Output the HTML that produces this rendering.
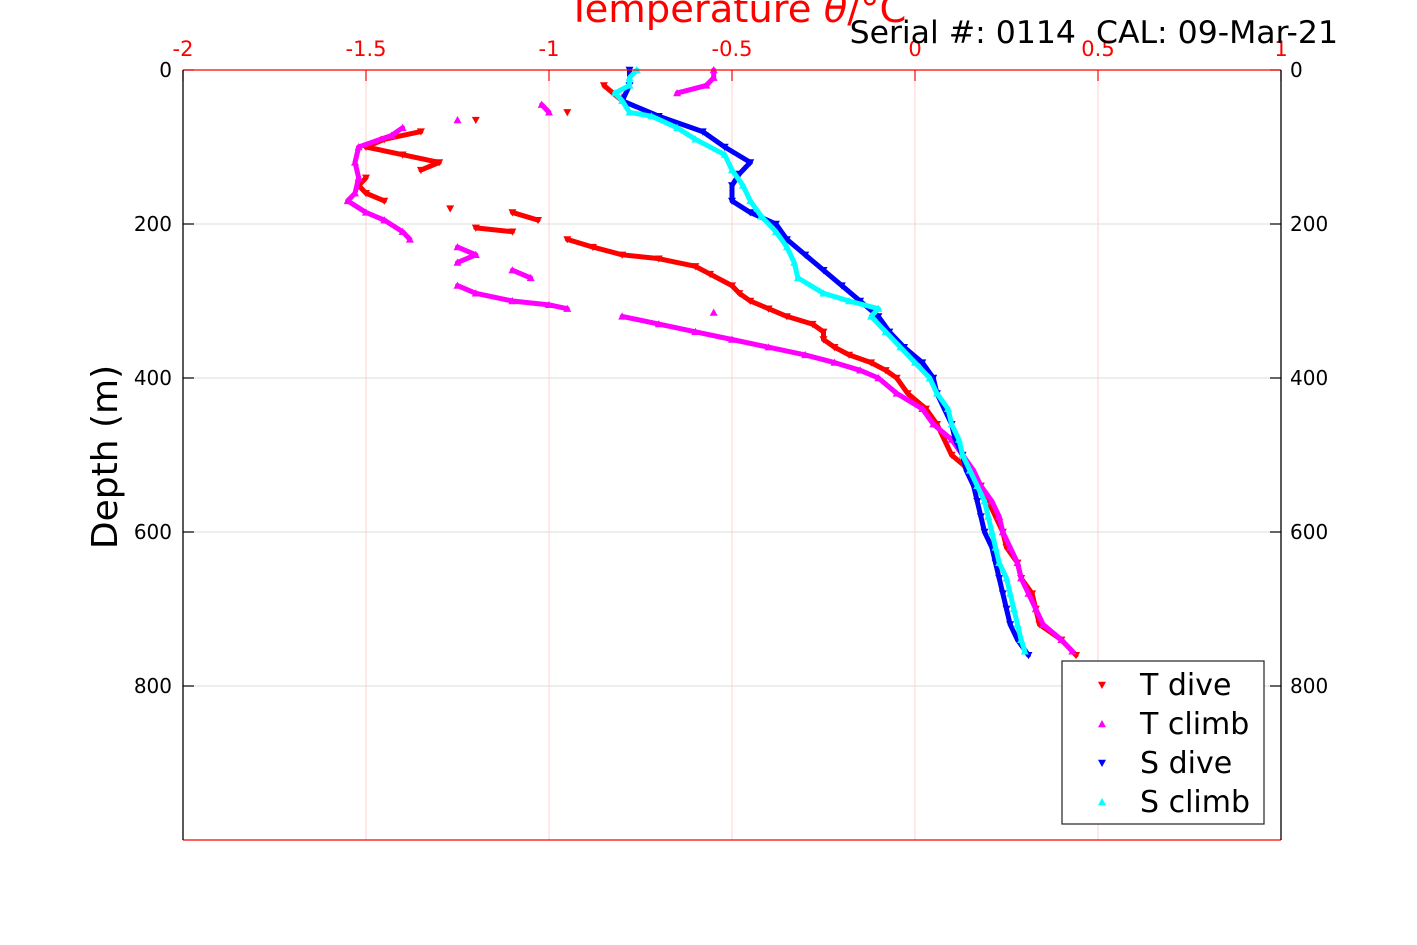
<!DOCTYPE html>
<html><head><meta charset="utf-8"><style>
body{margin:0;background:#fff;width:1417px;height:945px;overflow:hidden}
svg{display:block;font-family:"DejaVu Sans","Liberation Sans",sans-serif}
</style></head><body>
<svg id="chart" width="1417" height="945">
<g id="grid"></g>
<g id="series"></g>
<g id="axes"></g>
<text x="737" y="22" text-anchor="middle" font-size="38.5" fill="#f00">Temperature <tspan font-style="italic">θ</tspan>/°C</text>
<text x="1338" y="43" text-anchor="end" font-size="31.5" fill="#000" style="white-space:pre">Serial #: 0114  CAL: 09-Mar-21</text>
<text transform="translate(117,457) rotate(-90)" text-anchor="middle" font-size="36" fill="#000">Depth (m)</text>
<g>
<rect x="1062" y="661" width="202" height="163" fill="#fff" stroke="#222" stroke-width="1.2"/>
<g id="legend"></g>
</g>
</svg>
<script>
const xTicks=[-2,-1.5,-1,-0.5,0,0.5,1];
const xTickLabels=["-2","-1.5","-1","-0.5","0","0.5","1"];
const yTicks=[0,200,400,600,800];
const yTickLabels=["0","200","400","600","800"];
const tDiveDepth=[20,40,55,65,80,90,100,110,120,130,140,150,160,170,180,185,195,205,210,220,230,240,245,255,265,280,290,300,310,320,330,340,350,360,370,380,390,400,420,440,460,480,500,520,540,560,580,600,620,640,660,680,700,720,740,760];
const tDiveTemp=[-0.85,-0.8,-0.95,-1.2,-1.35,-1.45,-1.5,-1.4,-1.3,-1.35,-1.5,-1.52,-1.5,-1.45,-1.27,-1.1,-1.03,-1.2,-1.1,-0.95,-0.88,-0.8,-0.7,-0.6,-0.56,-0.5,-0.48,-0.45,-0.4,-0.35,-0.28,-0.25,-0.25,-0.22,-0.18,-0.12,-0.08,-0.05,-0.02,0.03,0.06,0.08,0.1,0.15,0.18,0.2,0.22,0.24,0.25,0.28,0.29,0.32,0.33,0.34,0.4,0.44];
const tClimbDepth=[0,10,20,30,35,45,55,65,75,85,100,120,140,160,170,185,195,210,220,230,240,250,260,270,280,290,300,305,310,315,320,330,340,350,360,370,380,390,400,420,440,460,480,500,520,540,560,580,600,620,640,660,680,700,720,740,755];
const tClimbTemp=[-0.55,-0.55,-0.57,-0.65,-0.8,-1.02,-1.0,-1.25,-1.4,-1.43,-1.52,-1.53,-1.52,-1.53,-1.55,-1.5,-1.45,-1.4,-1.38,-1.25,-1.2,-1.25,-1.1,-1.05,-1.25,-1.2,-1.1,-1.0,-0.95,-0.55,-0.8,-0.7,-0.6,-0.5,-0.4,-0.3,-0.22,-0.15,-0.1,-0.05,0.02,0.05,0.1,0.13,0.16,0.18,0.21,0.23,0.24,0.26,0.28,0.29,0.31,0.33,0.35,0.4,0.43];
const sDiveDepth=[0,20,40,60,80,100,120,135,150,170,185,200,220,240,260,280,300,320,340,360,380,400,420,440,460,480,500,520,540,560,580,600,620,640,660,680,700,720,740,760];
const sDiveTemp=[-0.78,-0.78,-0.8,-0.7,-0.58,-0.52,-0.45,-0.48,-0.5,-0.5,-0.45,-0.38,-0.35,-0.3,-0.25,-0.2,-0.15,-0.1,-0.07,-0.03,0.02,0.05,0.06,0.08,0.1,0.11,0.13,0.14,0.16,0.17,0.18,0.19,0.21,0.22,0.23,0.24,0.25,0.26,0.28,0.31];
const sClimbDepth=[0,10,20,30,40,55,60,75,90,110,130,150,170,190,210,230,250,270,290,300,310,320,340,360,380,400,420,440,460,480,500,520,540,560,580,600,620,640,660,680,700,720,740,755];
const sClimbTemp=[-0.76,-0.78,-0.78,-0.82,-0.8,-0.78,-0.72,-0.65,-0.6,-0.52,-0.5,-0.47,-0.45,-0.42,-0.38,-0.35,-0.33,-0.32,-0.25,-0.18,-0.1,-0.12,-0.08,-0.04,0.0,0.04,0.06,0.09,0.1,0.12,0.13,0.15,0.17,0.19,0.2,0.21,0.22,0.23,0.25,0.26,0.27,0.28,0.29,0.3];

const NS="http://www.w3.org/2000/svg";
const X0=183,X1=1281,Y0=70,Y1=840;
const xs=v=>X0+(v+2)/3*(X1-X0);
const ys=d=>Y0+d/1000*(Y1-Y0);
function mk(tag,attrs,parent){const e=document.createElementNS(NS,tag);for(const k in attrs)e.setAttribute(k,attrs[k]);parent.appendChild(e);return e;}
const grid=document.getElementById('grid'),axes=document.getElementById('axes'),ser=document.getElementById('series');
xTicks.forEach((v,i)=>{
 const l=mk('line',{x1:xs(v),x2:xs(v),y1:Y0,y2:Y1,stroke:'#ffd0d0','stroke-width':1},grid);
 
 const t=mk('line',{x1:xs(v),x2:xs(v),y1:Y0,y2:Y0+11,stroke:'#f00','stroke-width':1.2},axes);
 
 const tx=mk('text',{x:xs(v),y:56,'text-anchor':'middle','font-size':21,fill:'#f00'},axes);
 tx.textContent=xTickLabels[i];
 
});
yTicks.forEach((d,i)=>{
 const l=mk('line',{x1:X0,x2:X1,y1:ys(d),y2:ys(d),stroke:'#dcdcdc','stroke-width':1},grid);
 
 mk('line',{x1:X0,x2:X0+11,y1:ys(d),y2:ys(d),stroke:'#000','stroke-width':1.2},axes);
 mk('line',{x1:X1-11,x2:X1,y1:ys(d),y2:ys(d),stroke:'#000','stroke-width':1.2},axes);
 const a=mk('text',{x:172,y:ys(d)+7,'text-anchor':'end','font-size':20,fill:'#000'},axes);
 a.textContent=yTickLabels[i];
 
 const b=mk('text',{x:1290,y:ys(d)+7,'font-size':20,fill:'#000'},axes);
 b.textContent=yTickLabels[i];
 
});
mk('line',{x1:X0,x2:X1,y1:Y0,y2:Y0,stroke:'#f00','stroke-width':1.3},axes);
mk('line',{x1:X0,x2:X1,y1:Y1,y2:Y1,stroke:'#f00','stroke-width':1.3},axes);
mk('line',{x1:X0,x2:X0,y1:Y0,y2:Y1,stroke:'#000','stroke-width':1.3},axes);
mk('line',{x1:X1,x2:X1,y1:Y0,y2:Y1,stroke:'#000','stroke-width':1.3},axes);
function tri(x,y,up,s){return up?`${x-s},${y+s*0.8} ${x+s},${y+s*0.8} ${x},${y-s}`:`${x-s},${y-s*0.8} ${x+s},${y-s*0.8} ${x},${y+s}`;}
function series(name,depths,temps,color,up){
 const g=mk('g',{},ser);
 
 for(let i=1;i<depths.length;i++){
  if(Math.abs(temps[i]-temps[i-1])>0.12) continue;
  const s=mk('line',{x1:xs(temps[i-1]),y1:ys(depths[i-1]),x2:xs(temps[i]),y2:ys(depths[i]),stroke:color,'stroke-width':5,'stroke-linecap':'round'},g);
  
 }
 depths.forEach((d,i)=>{
  const p=mk('polygon',{points:tri(xs(temps[i]),ys(d),up,4),fill:color},g);
  
 });
}
series('t-dive',tDiveDepth,tDiveTemp,'#f00',false);
series('t-climb',tClimbDepth,tClimbTemp,'#f0f',true);
series('s-dive',sDiveDepth,sDiveTemp,'#00f',false);
series('s-climb',sClimbDepth,sClimbTemp,'#0ff',true);
const lg=document.getElementById('legend');
const entries=[['T dive','#f00',false],['T climb','#f0f',true],['S dive','#00f',false],['S climb','#0ff',true]];
entries.forEach((e,i)=>{
 const y=685+i*39;
 const g=mk('g',{},lg);
 
 mk('polygon',{points:tri(1102,y,e[2],4),fill:e[1]},g);
 const t=mk('text',{x:1140,y:y+10,'font-size':30,fill:'#000'},g);
 t.textContent=e[0];
});
</script>
</body></html>
